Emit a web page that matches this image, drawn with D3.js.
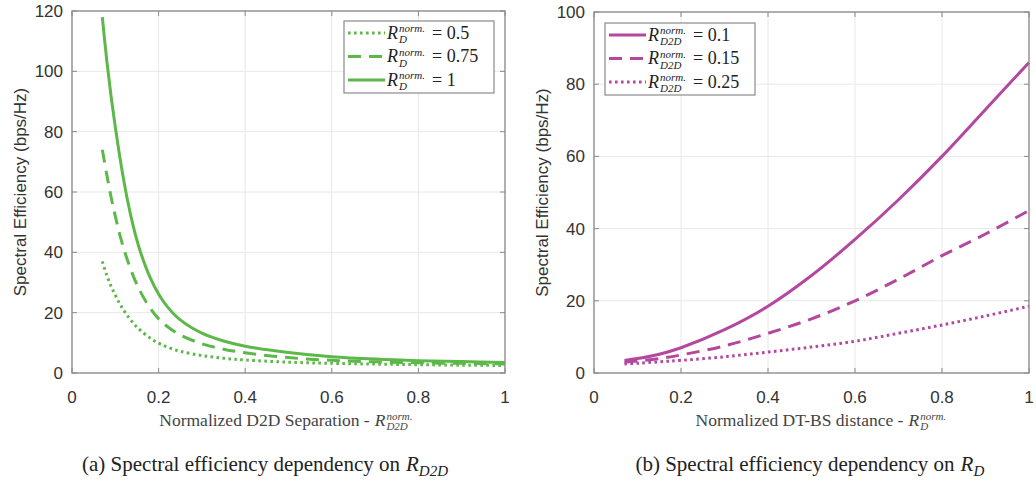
<!DOCTYPE html>
<html>
<head>
<meta charset="utf-8">
<script src="https://cdn.jsdelivr.net/npm/d3@7"></script>
<style>
  body { margin: 0; background: #fff; }
  svg { display: block; }
</style>
</head>
<body>
<div id="chart"></div>
<script>
// panel (a): SE vs normalized D2D separation, one curve per R_D
const xA = [0.07, 0.08, 0.09, 0.1, 0.11, 0.12, 0.13, 0.14, 0.15, 0.16, 0.18, 0.2, 0.22, 0.25, 0.3, 0.35, 0.4, 0.5, 0.6, 0.7, 0.8, 0.9, 1];
const seA_050 = [37, 32.5, 28.8, 25.8, 23, 20.7, 18.6, 16.8, 15.2, 13.9, 11.6, 9.9, 8.6, 7.2, 5.8, 4.9, 4.3, 3.6, 3.2, 2.95, 2.75, 2.6, 2.5];
const seA_075 = [74, 66, 58.5, 52, 46, 41, 36.6, 32.7, 29.3, 26.4, 21.6, 18, 15.4, 12.6, 9.7, 7.9, 6.7, 5.1, 4.2, 3.7, 3.4, 3.2, 3.0];
const seA_100 = [118, 104, 92, 81.5, 72, 63.5, 56, 49.5, 44, 39.3, 31.8, 26.2, 22, 17.6, 13.2, 10.6, 8.9, 6.8, 5.4, 4.6, 4.1, 3.8, 3.5];
const legendA = ["0.5", "0.75", "1"];

// panel (b): SE vs normalized DT-BS distance, one curve per R_D2D
const xB = [0.07, 0.1, 0.15, 0.2, 0.3, 0.4, 0.5, 0.6, 0.7, 0.8, 0.9, 1];
const seB_010 = [3.5, 4, 5.2, 7, 12, 18.5, 27, 37, 48, 60, 73, 86];
const seB_015 = [3, 3.3, 4, 5, 7.5, 11, 15, 20, 26, 32.5, 38.5, 45];
const seB_025 = [2.5, 2.7, 3.1, 3.5, 4.5, 5.8, 7.2, 8.8, 11, 13.3, 15.8, 18.5];
const legendB = ["0.1", "0.15", "0.25"];

const xTicks = [0, 0.2, 0.4, 0.6, 0.8, 1];
const yTicksA = [0, 20, 40, 60, 80, 100, 120];
const yTicksB = [0, 20, 40, 60, 80, 100];

const W = 1036, H = 486;
const svg = d3.select("#chart").append("svg").attr("width", W).attr("height", H);

const dotted = "2.6,3.4", dashed = "13,8";
const serif = "'Liberation Serif', 'Times New Roman', serif";
const sans = "'Liberation Sans', Arial, sans-serif";

// measure a string in a given font
function measure(str, size, italic) {
  const t = svg.append("text")
    .style("font-family", serif).style("font-size", size + "px")
    .style("font-style", italic ? "italic" : "normal").text(str);
  const w = t.node().getComputedTextLength();
  t.remove();
  return w;
}

// one text element: R^{norm.}_{sub} [= value]
function mathLabel(parent, x, y, value, sub, size, supSize, gap, color) {
  const rw = measure("R", size, true);
  const sw = measure("norm.", supSize, true);
  const t = parent.append("text").attr("x", x).attr("y", y)
    .style("font-family", serif).style("font-size", size + "px").style("fill", color);
  t.append("tspan").style("font-style", "italic").text("R");
  t.append("tspan").attr("x", x + rw + 1).attr("y", y - size * 0.36)
    .style("font-style", "italic").style("font-size", supSize + "px").text("norm.");
  t.append("tspan").attr("x", x + rw + 1).attr("y", y + size * 0.25)
    .style("font-style", "italic").style("font-size", supSize + "px").text(sub);
  if (value) {
    t.append("tspan").attr("x", x + rw + sw + gap).attr("y", y).text("= " + value);
  }
  return t;
}

function drawPanel(p) {
  const x = d3.scaleLinear().domain([0, 1]).range([p.left, p.right]);
  const y = d3.scaleLinear().domain([0, p.yMax]).range([p.bottom, p.top]);
  const g = svg.append("g");

  // grid
  g.selectAll(".gx").data(xTicks).enter().append("line")
    .attr("x1", d => x(d)).attr("x2", d => x(d))
    .attr("y1", p.top).attr("y2", p.bottom)
    .attr("stroke", "#e8e8e8").attr("stroke-width", 1);
  g.selectAll(".gy").data(p.yTicks).enter().append("line")
    .attr("x1", p.left).attr("x2", p.right)
    .attr("y1", d => y(d)).attr("y2", d => y(d))
    .attr("stroke", "#e8e8e8").attr("stroke-width", 1);

  // curves
  const line = d3.line().x(d => x(d[0])).y(d => y(d[1])).curve(d3.curveCatmullRom.alpha(0.5));
  p.series.forEach(s => {
    g.append("path")
      .datum(p.xs.map((v, i) => [v, s.values[i]]))
      .attr("d", line)
      .attr("fill", "none")
      .attr("stroke", p.color)
      .attr("stroke-width", 3)
      .attr("stroke-dasharray", s.dash);
  });

  // box + inward ticks
  const axColor = "#8a8a8a";
  g.append("rect")
    .attr("x", p.left).attr("y", p.top)
    .attr("width", p.right - p.left).attr("height", p.bottom - p.top)
    .attr("fill", "none").attr("stroke", axColor).attr("stroke-width", 1.3);

  const tick = 5;
  xTicks.forEach(t => {
    g.append("line").attr("x1", x(t)).attr("x2", x(t)).attr("y1", p.bottom).attr("y2", p.bottom - tick).attr("stroke", axColor);
    g.append("line").attr("x1", x(t)).attr("x2", x(t)).attr("y1", p.top).attr("y2", p.top + tick).attr("stroke", axColor);
  });
  p.yTicks.forEach(t => {
    g.append("line").attr("x1", p.left).attr("x2", p.left + tick).attr("y1", y(t)).attr("y2", y(t)).attr("stroke", axColor);
    g.append("line").attr("x1", p.right).attr("x2", p.right - tick).attr("y1", y(t)).attr("y2", y(t)).attr("stroke", axColor);
  });

  // tick labels
  g.selectAll(".xl").data(xTicks).enter().append("text")
    .attr("x", d => x(d)).attr("y", p.bottom + 30)
    .attr("text-anchor", "middle")
    .style("font-family", sans)
    .style("font-size", "17px").style("fill", "#333")
    .text(d => d3.format("~g")(d));
  g.selectAll(".yl").data(p.yTicks).enter().append("text")
    .attr("x", p.left - 9).attr("y", d => y(d) + 6)
    .attr("text-anchor", "end")
    .style("font-family", sans)
    .style("font-size", "17px").style("fill", "#333")
    .text(d => d);

  // y title
  g.append("text")
    .attr("transform", `translate(${p.left - 46},${(p.top + p.bottom) / 2}) rotate(-90)`)
    .attr("text-anchor", "middle")
    .style("font-family", sans)
    .style("font-size", "17px").style("fill", "#333")
    .text("Spectral Efficiency (bps/Hz)");

  // x title with R^{norm.}_{sub}
  const xtStr = p.xTitle + " -";
  const tw = measure(xtStr, 17.5, false);
  const x0 = p.titleCx - (tw + 45) / 2;
  g.append("text")
    .attr("x", x0).attr("y", p.bottom + 53)
    .style("font-family", serif)
    .style("font-size", "17.5px").style("fill", "#444")
    .text(xtStr);
  mathLabel(g, x0 + tw + 5, p.bottom + 53, null, p.xSub, 17.5, 11, 0, "#444");

  // caption
  const capStr = p.caption;
  const cw = measure(capStr, 21, false);
  const c0 = p.captionCx - (cw + 20 + p.capSub.length * 10) / 2;
  g.append("text")
    .attr("x", c0).attr("y", 471)
    .style("font-family", serif)
    .style("font-size", "21px").style("fill", "#222")
    .text(capStr);
  const capR = g.append("text").attr("x", c0 + cw + 6).attr("y", 471)
    .style("font-family", serif).style("font-style", "italic")
    .style("font-size", "21px").style("fill", "#222");
  capR.append("tspan").text("R");
  capR.append("tspan").attr("dy", 5).style("font-size", "15px").text(p.capSub);

  // legend
  const lg = g.append("g");
  lg.append("rect")
    .attr("x", p.legend.x).attr("y", p.legend.y)
    .attr("width", p.legend.w).attr("height", p.legend.h)
    .attr("fill", "#fff").attr("stroke", "#8a8a8a").attr("stroke-width", 1.2);
  p.series.forEach((s, k) => {
    const cy = p.legend.y + 12 + k * 23.5;
    lg.append("line")
      .attr("x1", p.legend.x + 4).attr("x2", p.legend.x + 41)
      .attr("y1", cy).attr("y2", cy)
      .attr("stroke", p.color).attr("stroke-width", 3)
      .attr("stroke-dasharray", s.dash);
    mathLabel(lg, p.legend.x + 43, cy + 5.5, s.label, p.legendSub, 18, 11, 8, "#222");
  });
}

drawPanel({
  left: 72, right: 505, top: 11, bottom: 373, yMax: 120, yTicks: yTicksA,
  color: "#5db84a", xs: xA,
  series: [
    { values: seA_050, dash: dotted, label: legendA[0] },
    { values: seA_075, dash: dashed, label: legendA[1] },
    { values: seA_100, dash: null, label: legendA[2] }
  ],
  legendSub: "D",
  legend: { x: 344, y: 21, w: 150, h: 72 },
  xTitle: "Normalized D2D Separation", xSub: "D2D", titleCx: 287,
  caption: "(a) Spectral efficiency dependency on", capSub: "D2D", captionCx: 266
});

drawPanel({
  left: 594, right: 1029, top: 12, bottom: 373, yMax: 100, yTicks: yTicksB,
  color: "#b4479e", xs: xB,
  series: [
    { values: seB_010, dash: null, label: legendB[0] },
    { values: seB_015, dash: dashed, label: legendB[1] },
    { values: seB_025, dash: dotted, label: legendB[2] }
  ],
  legendSub: "D2D",
  legend: { x: 605, y: 23, w: 150, h: 72 },
  xTitle: "Normalized DT-BS distance", xSub: "D", titleCx: 822,
  caption: "(b) Spectral efficiency dependency on", capSub: "D", captionCx: 810
});
</script>
</body>
</html>
